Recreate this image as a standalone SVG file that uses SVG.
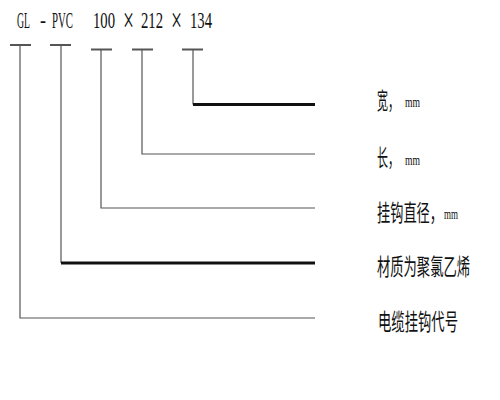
<svg xmlns="http://www.w3.org/2000/svg" width="500" height="400" viewBox="0 0 500 400">
<style>
.t{font-family:"Liberation Serif","Noto Sans CJK SC",serif;font-size:24px;fill:#111}
.x{font-family:"Liberation Serif",serif;font-size:36px;fill:#111}
.c{font-family:"Noto Sans CJK SC",sans-serif;font-size:23px;fill:#111}
.m{font-family:"Liberation Serif",serif;font-size:15px;fill:#111}
.thin{stroke:#555;stroke-width:1.2;fill:none}
.thick{stroke:#111;stroke-width:2.8;fill:none}
.bar{stroke:#555;stroke-width:2;fill:none}
</style>
<rect width="500" height="400" fill="#fff"/>
<g id="title">
<text class="t" x="17" y="28" textLength="13" lengthAdjust="spacingAndGlyphs">GL</text>
<text class="t" x="40" y="28" textLength="6" lengthAdjust="spacingAndGlyphs">-</text>
<text class="t" x="52" y="28" textLength="21" lengthAdjust="spacingAndGlyphs">PVC</text>
<text class="t" x="93" y="28" textLength="22" lengthAdjust="spacingAndGlyphs">100</text>
<text class="x" x="123" y="31.5" textLength="11" lengthAdjust="spacingAndGlyphs">×</text>
<text class="t" x="141" y="28" textLength="22" lengthAdjust="spacingAndGlyphs">212</text>
<text class="x" x="171" y="31.5" textLength="11" lengthAdjust="spacingAndGlyphs">×</text>
<text class="t" x="190" y="28" textLength="22" lengthAdjust="spacingAndGlyphs">134</text>
</g>
<g id="connectors">
<line class="bar" x1="10" y1="45" x2="31" y2="45"/>
<line class="bar" x1="50" y1="45" x2="71" y2="45"/>
<line class="bar" x1="91" y1="49.5" x2="112" y2="49.5"/>
<line class="bar" x1="132" y1="49.5" x2="153" y2="49.5"/>
<line class="bar" x1="182" y1="49.5" x2="203" y2="49.5"/>
<polyline class="thin" points="193,49.5 193,104.5"/>
<line class="thick" x1="193" y1="104.5" x2="315" y2="104.5"/>
<polyline class="thin" points="142,49.5 142,154 315,154"/>
<polyline class="thin" points="101,49.5 101,208 315,208"/>
<polyline class="thin" points="61,45 61,263"/>
<line class="thick" x1="61" y1="263" x2="315" y2="263"/>
<polyline class="thin" points="20,45 20,318 315,318"/>
</g>
<g id="label-width">
<text class="c" x="377" y="109" textLength="22" lengthAdjust="spacingAndGlyphs">宽，</text>
<text class="m" x="405" y="107" textLength="15" lengthAdjust="spacingAndGlyphs">mm</text>
</g>
<g id="label-length">
<text class="c" x="377" y="166" textLength="22" lengthAdjust="spacingAndGlyphs">长，</text>
<text class="m" x="405" y="165" textLength="15" lengthAdjust="spacingAndGlyphs">mm</text>
</g>
<g id="label-diameter">
<text class="c" x="377" y="221" textLength="66" lengthAdjust="spacingAndGlyphs">挂钩直径，</text>
<text class="m" x="444" y="219" textLength="14" lengthAdjust="spacingAndGlyphs">mm</text>
</g>
<g id="label-material">
<text class="c" x="377" y="275" textLength="93" lengthAdjust="spacingAndGlyphs">材质为聚氯乙烯</text>
</g>
<g id="label-code">
<text class="c" x="378" y="330" textLength="80" lengthAdjust="spacingAndGlyphs">电缆挂钩代号</text>
</g>
</svg>
